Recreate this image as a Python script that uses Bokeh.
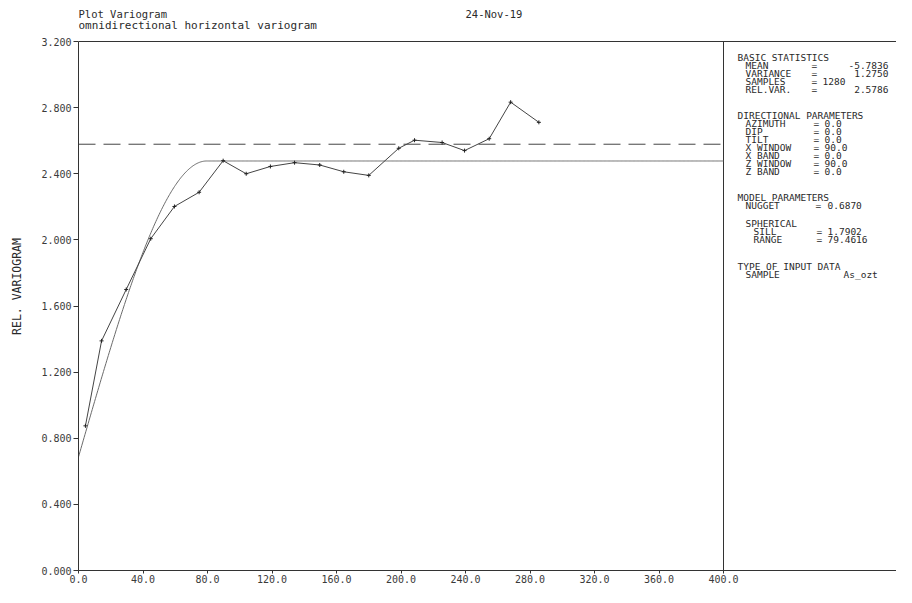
import numpy as np
from bokeh.plotting import figure
from bokeh.models import Range1d, FixedTicker, PrintfTickFormatter, Span, Label
from bokeh.embed import file_html
from bokeh.resources import INLINE

# ---------------- data ----------------
lags = [4.3, 14.3, 29.6, 44.8, 59.5, 74.8, 89.7, 104.0, 119.0, 134.0,
        149.6, 164.5, 180.0, 198.6, 208.4, 225.5, 239.4, 254.7, 268.0, 285.5]
gamma = [0.875, 1.389, 1.700, 2.007, 2.202, 2.288, 2.479, 2.400, 2.444, 2.467,
         2.453, 2.412, 2.390, 2.554, 2.603, 2.589, 2.540, 2.612, 2.833, 2.711]

nugget = 0.6870
sph_sill = 1.7902
sph_range = 79.4616
rel_var = 2.5786

x_ticks = [0, 40, 80, 120, 160, 200, 240, 280, 320, 360, 400]
y_ticks = [0.0, 0.4, 0.8, 1.2, 1.6, 2.0, 2.4, 2.8, 3.2]

title_lines = ["Plot Variogram", "omnidirectional horizontal variogram"]
date_text = "24-Nov-19"
y_label = "REL. VARIOGRAM"

# right panel texts
headers = ["BASIC STATISTICS", "DIRECTIONAL PARAMETERS", "MODEL PARAMETERS", "TYPE OF INPUT DATA"]
stat_names = ["MEAN", "VARIANCE", "SAMPLES", "REL.VAR."]
stat_vals = ["-5.7836", "1.2750", "1280", "2.5786"]
dir_names = ["AZIMUTH", "DIP", "TILT", "X WINDOW", "X BAND", "Z WINDOW", "Z BAND"]
dir_vals = ["0.0", "0.0", "0.0", "90.0", "0.0", "90.0", "0.0"]
model_names = ["NUGGET", "SPHERICAL"]
sph_names = ["SILL", "RANGE"]
sph_vals = ["1.7902", "79.4616"]
input_name = "SAMPLE"
input_val = "As_ozt"

# ---------------- layout (pixel positions of the picture) ----------------
W, H = 896, 587
LEFT, TOP, BOTTOM = 78, 2, 17
AX_TOP = 41                      # pixel row of y = 3.2
AX_BOT = H - BOTTOM              # pixel row of y = 0
XS = 645.0 / 400.0
YS = (AX_BOT - AX_TOP) / 3.2
x_end = (W - LEFT) / XS
y_end = 3.2 + (AX_TOP - TOP) / YS


def px(ix):
    return (ix - LEFT) / XS


def py(iy):
    return (AX_BOT - iy) / YS


FONT = "DejaVu Sans Mono"
TXT = "#2a2a2a"
TICKC = "#3a3a3a"
AXC = "#333333"

p = figure(width=W, height=H, output_backend="svg", toolbar_location=None,
           x_range=Range1d(0, x_end), y_range=Range1d(0, y_end),
           min_border_left=LEFT, min_border_right=0, min_border_top=TOP,
           min_border_bottom=BOTTOM)
p.grid.visible = False
p.outline_line_color = None
p.background_fill_color = "white"
p.border_fill_color = "white"

# axes
xa = p.xaxis[0]
xa.ticker = FixedTicker(ticks=x_ticks)
xa.formatter = PrintfTickFormatter(format="%.1f")
xa.major_tick_out = 3
xa.major_tick_in = 0
xa.minor_tick_line_color = None
xa.major_label_standoff = 1
xa.axis_line_color = AXC
xa.major_tick_line_color = AXC
xa.major_label_text_font = FONT
xa.major_label_text_font_size = "10px"
xa.major_label_text_color = TICKC

ya = p.yaxis[0]
ya.bounds = (0, 3.2)
ya.ticker = FixedTicker(ticks=y_ticks)
ya.formatter = PrintfTickFormatter(format="%.3f")
ya.major_tick_out = 5
ya.major_tick_in = 0
ya.minor_tick_line_color = None
ya.major_label_standoff = 2
ya.axis_line_color = AXC
ya.major_tick_line_color = AXC
ya.major_label_text_font = FONT
ya.major_label_text_font_size = "10px"
ya.major_label_text_color = TICKC
ya.axis_label = y_label
ya.axis_label_text_font = FONT
ya.axis_label_text_font_style = "normal"
ya.axis_label_text_font_size = "11.5px"
ya.axis_label_text_color = TXT
ya.axis_label_standoff = 14

# frame lines
p.add_layout(Span(location=3.2, dimension="width", line_color=AXC, line_width=1))
p.line([400, 400], [0, 3.2], line_color=AXC, line_width=1)

# model curve (spherical)
h = np.linspace(0, 400, 801)
hr = np.minimum(h / sph_range, 1.0)
model = nugget + sph_sill * (1.5 * hr - 0.5 * hr ** 3)
p.line(h, model, line_color="#6a6a6a", line_width=1)

# relative variance dashed line
p.line([0, 400], [rel_var, rel_var], line_color="#444444", line_width=1, line_dash="17 8")

# experimental variogram
p.line(lags, gamma, line_color="#444444", line_width=1)
p.scatter(lags, gamma, marker="cross", size=4, line_color="#222222", line_width=1)


def lab(x, y, text, size="9.5px", align="left"):
    p.add_layout(Label(x=x, y=y, text=text, text_font=FONT, text_font_size=size,
                       text_color=TXT, text_baseline="middle", text_align=align))


# header texts
lab(px(78), py(13), title_lines[0], "10.5px")
lab(px(78), py(25), title_lines[1], "11px")
lab(px(465), py(13), date_text, "10.5px")

# right panel
HX, I1, I2 = 737, 745, 753
lab(px(HX), py(57), headers[0])
rows = [65, 73, 81, 89]
for i, (n, v) in enumerate(zip(stat_names, stat_vals)):
    lab(px(I1), py(rows[i]), n)
    lab(px(811), py(rows[i]), "=")
    if n == "SAMPLES":
        lab(px(822), py(rows[i]), v)
    else:
        lab(px(888), py(rows[i]), v, align="right")

lab(px(HX), py(115), headers[1])
drows = [123, 131, 139, 147, 155, 163, 171]
for i, (n, v) in enumerate(zip(dir_names, dir_vals)):
    lab(px(I1), py(drows[i]), n)
    lab(px(813), py(drows[i]), "=")
    lab(px(824), py(drows[i]), v)

lab(px(HX), py(197), headers[2])
lab(px(I1), py(205), model_names[0])
lab(px(815), py(205), "=")
lab(px(827), py(205), "%.4f" % nugget)
lab(px(I1), py(223), model_names[1])
for i, (n, v) in enumerate(zip(sph_names, sph_vals)):
    yy = py([231, 239][i])
    lab(px(I2), yy, n)
    lab(px(816), yy, "=")
    lab(px(827), yy, v)

lab(px(HX), py(266), headers[3])
lab(px(I1), py(274), input_name)
lab(px(843), py(274), input_val)

open("out.html", "w").write(file_html(p, INLINE))
